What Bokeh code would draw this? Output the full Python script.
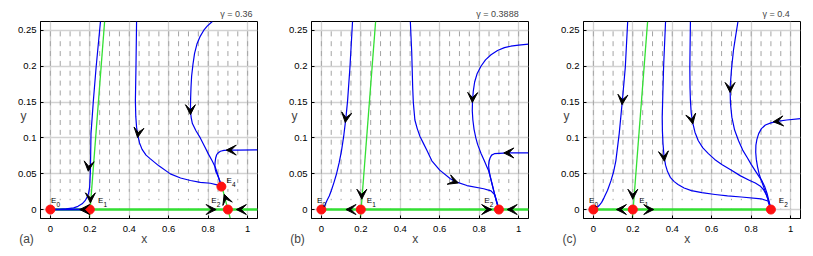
import math
from bokeh.plotting import figure
from bokeh.models import (Range1d, FixedTicker, Label, Arrow, VeeHead,
                          ColumnDataSource, PrintfTickFormatter)
from bokeh.layouts import row
from bokeh.embed import file_html
from bokeh.resources import INLINE
from bokeh.core.properties import value

# ---------------- data ----------------
X_TICKS = [0, 0.2, 0.4, 0.6, 0.8, 1]
Y_TICKS = [0, 0.05, 0.1, 0.15, 0.2, 0.25]
X_RANGE = (-0.05, 1.05)
Y_RANGE = (-0.0125, 0.2625)

GAMMAS = ["\u03b3 = 0.36", "\u03b3 = 0.3888", "\u03b3 = 0.4"]
TAGS = ["(a)", "(b)", "(c)"]

# vector-field sample grid (gray quiver), arrows point down
FIELD_X = [0.0, 0.05, 0.1, 0.15, 0.2, 0.25, 0.3, 0.35, 0.4, 0.45, 0.5,
           0.55, 0.6, 0.65, 0.7, 0.75, 0.8, 0.85, 0.9, 0.95, 1.0]
FIELD_Y = [0.00125, 0.015, 0.02875, 0.0425, 0.05625, 0.07, 0.08375, 0.0975,
           0.11125, 0.125, 0.13875, 0.1525, 0.16625, 0.18, 0.19375, 0.2075,
           0.22125, 0.235, 0.24875]
FIELD_LEN = [0.0006, 0.002, 0.004, 0.0055, 0.0065, 0.007, 0.007, 0.007, 0.007,
             0.007, 0.007, 0.007, 0.007, 0.007, 0.007, 0.007, 0.007,
             0.007, 0.007]

# green nullclines
SLANT_X = [0.198, 0.275]
SLANT_Y = [-0.0125, 0.2625]
AXIS_A_X = [0.0, 1.05]
AXIS_B_X = [0.0, 1.05]
AXIS_C_X = [0.0, 0.9]
GREEN_A2_X = [0.865, 0.912]
GREEN_A2_Y = [0.037, -0.0125]

# trajectories (blue)
A0_X = [0.0, 0.2]
A0_Y = [0.0, 0.0]
A1_X = [0.254, 0.232, 0.218, 0.206, 0.203, 0.199, 0.193, 0.186, 0.175, 0.161,
        0.14, 0.118, 0.08, 0.05, 0.0]
A1_Y = [0.2625, 0.199, 0.152, 0.106, 0.054, 0.031, 0.022, 0.017, 0.012, 0.008,
        0.0045, 0.0024, 0.001, 0.0004, 0.0]
A2_X = [0.437, 0.434, 0.431, 0.433, 0.437, 0.443, 0.452, 0.465, 0.485, 0.507,
        0.55, 0.608, 0.66, 0.71, 0.76, 0.811, 0.845, 0.867]
A2_Y = [0.2625, 0.2, 0.152, 0.13, 0.115, 0.104, 0.093, 0.084, 0.076, 0.0707,
        0.061, 0.0498, 0.044, 0.0405, 0.038, 0.0367, 0.0345, 0.032]
A3_X = [0.821, 0.795, 0.777, 0.758, 0.743, 0.731, 0.723, 0.716, 0.713, 0.711,
        0.71, 0.714, 0.72, 0.738, 0.76, 0.782, 0.802, 0.82, 0.836, 0.846,
        0.853, 0.861, 0.867]
A3_Y = [0.2625, 0.256, 0.25, 0.241, 0.231, 0.218, 0.203, 0.186, 0.171, 0.155,
        0.138, 0.128, 0.12, 0.11, 0.1, 0.088, 0.077, 0.068, 0.059, 0.051,
        0.045, 0.038, 0.032]
A4_X = [1.05, 0.95, 0.912, 0.88, 0.862, 0.85, 0.843, 0.838, 0.835, 0.834,
        0.836, 0.84, 0.846, 0.853, 0.861, 0.867]
A4_Y = [0.0833, 0.083, 0.083, 0.0825, 0.0814, 0.079, 0.0765, 0.072, 0.066,
        0.061, 0.056, 0.052, 0.049, 0.044, 0.038, 0.032]

B1_X = [0.158, 0.145, 0.133, 0.124, 0.114, 0.102, 0.09, 0.077, 0.064, 0.051,
        0.04, 0.029, 0.02, 0.012, 0.005, 0.0]
B1_Y = [0.2625, 0.199, 0.152, 0.127, 0.104, 0.082, 0.065, 0.05, 0.038, 0.027,
        0.019, 0.013, 0.0075, 0.003, 0.001, 0.0]
B2_X = [0.451, 0.458, 0.463, 0.466, 0.474, 0.486, 0.5, 0.518, 0.536, 0.56,
        0.6, 0.654, 0.679, 0.738, 0.823, 0.86, 0.88, 0.893, 0.9]
B2_Y = [0.2625, 0.22, 0.17, 0.15, 0.125, 0.113, 0.102, 0.092, 0.082, 0.068,
        0.055, 0.043, 0.039, 0.0335, 0.029, 0.026, 0.02, 0.008, 0.0]
B3_X = [1.05, 1.0, 0.96, 0.928, 0.893, 0.86, 0.832, 0.809, 0.79, 0.777, 0.77,
        0.766, 0.765, 0.768, 0.774, 0.783, 0.792, 0.81, 0.826, 0.84, 0.848,
        0.857, 0.865, 0.874, 0.882, 0.891, 0.9]
B3_Y = [0.231, 0.2295, 0.228, 0.226, 0.222, 0.216, 0.209, 0.2, 0.19, 0.178,
        0.165, 0.15, 0.138, 0.125, 0.112, 0.1, 0.091, 0.078, 0.068, 0.059,
        0.054, 0.045, 0.036, 0.026, 0.017, 0.008, 0.0]
B4_X = [1.05, 0.945, 0.9, 0.877, 0.863, 0.855, 0.85, 0.848, 0.849, 0.852,
        0.857, 0.865, 0.874, 0.882, 0.891, 0.9]
B4_Y = [0.079, 0.079, 0.0785, 0.078, 0.076, 0.072, 0.067, 0.062, 0.057, 0.052,
        0.045, 0.036, 0.026, 0.017, 0.008, 0.0]

C1_X = [0.174, 0.162, 0.147, 0.131, 0.114, 0.102, 0.089, 0.072, 0.055, 0.042,
        0.029, 0.015, 0.0]
C1_Y = [0.2625, 0.199, 0.152, 0.106, 0.068, 0.052, 0.040, 0.027, 0.017, 0.01,
        0.0056, 0.0018, 0.0]
C2_X = [0.366, 0.356, 0.349, 0.35, 0.353, 0.358, 0.366, 0.376, 0.39, 0.41,
        0.429, 0.46, 0.497, 0.55, 0.617, 0.68, 0.75, 0.85, 0.885, 0.9]
C2_Y = [0.2625, 0.199, 0.129, 0.11, 0.092, 0.075, 0.062, 0.053, 0.045, 0.039,
        0.035, 0.03, 0.0265, 0.0235, 0.021, 0.019, 0.0175, 0.015, 0.012, 0.0]
C3_X = [0.492, 0.489, 0.49, 0.492, 0.496, 0.503, 0.515, 0.532, 0.555, 0.583,
        0.615, 0.651, 0.7, 0.746, 0.79, 0.821, 0.845, 0.862, 0.878, 0.89, 0.9]
C3_Y = [0.2625, 0.199, 0.17, 0.152, 0.135, 0.122, 0.108, 0.096, 0.086, 0.078,
        0.07, 0.063, 0.055, 0.047, 0.041, 0.037, 0.033, 0.028, 0.02, 0.01, 0.0]
C4_X = [0.733, 0.72, 0.71, 0.7, 0.693, 0.695, 0.702, 0.716, 0.736, 0.757,
        0.779, 0.8, 0.821, 0.84, 0.855, 0.87, 0.881, 0.892, 0.9]
C4_Y = [0.2625, 0.24, 0.222, 0.195, 0.169, 0.148, 0.129, 0.111, 0.096, 0.083,
        0.073, 0.063, 0.054, 0.046, 0.04, 0.031, 0.022, 0.01, 0.0]
C5_X = [1.05, 0.98, 0.932, 0.9, 0.872, 0.852, 0.838, 0.829, 0.824, 0.823,
        0.826, 0.832, 0.84, 0.852, 0.864, 0.878, 0.89, 0.9]
C5_Y = [0.127, 0.125, 0.123, 0.121, 0.118, 0.113, 0.106, 0.098, 0.09, 0.08,
        0.07, 0.06, 0.05, 0.04, 0.031, 0.02, 0.0105, 0.0]

# equilibria
EQ_A_X = [0.0, 0.2, 0.9, 0.867]
EQ_A_Y = [0.0, 0.0, 0.0, 0.032]
EQ_A_SUB = ["0", "1", "2", "4"]
EQ_B_X = [0.0, 0.2, 0.9]
EQ_B_Y = [0.0, 0.0, 0.0]
EQ_B_SUB = ["0", "1", "2"]
EQ_C_X = [0.0, 0.2, 0.9]
EQ_C_Y = [0.0, 0.0, 0.0]
EQ_C_SUB = ["0", "1", "2"]

# direction arrows on trajectories: x, y, screen angle (deg)
ARR_A_X = [0.194, 0.203, 0.169, 0.445, 0.71, 0.912, 0.82, 0.963, 0.888]
ARR_A_Y = [0.059, 0.015, 0.0, 0.106, 0.138, 0.083, 0.0, 0.0, 0.016]
ARR_A_ANG = [265, 270, 180, 262, 270, 180, 0, 180, 110]
ARR_B_X = [0.124, 0.205, 0.145, 0.843, 0.962, 0.675, 0.945, 0.766]
ARR_B_Y = [0.127, 0.02, 0.0, 0.0, 0.0, 0.039, 0.079, 0.155]
ARR_B_ANG = [262, 270, 180, 0, 180, 340, 180, 268]
ARR_C_X = [0.147, 0.358, 0.5, 0.693, 0.932, 0.2, 0.137, 0.286]
ARR_C_Y = [0.152, 0.073, 0.125, 0.169, 0.123, 0.02, 0.0, 0.0]
ARR_C_ANG = [265, 275, 282, 270, 185, 270, 180, 0]

# ---------------- layout ----------------
FRAME_W = 217
FRAME_H = 197
TOP = 21
BOTTOM = 37
PX_X = FRAME_W / (X_RANGE[1] - X_RANGE[0])
PX_Y = FRAME_H / (Y_RANGE[1] - Y_RANGE[0])

FONT = "Liberation Sans"
BLUE = "#0000f0"
GREEN = "#33e033"


def make_panel(i, curves, axis_x, extra_green, eq_x, eq_y, eq_sub, eq_lab,
               arr_x, arr_y, arr_ang, gamma_x, left, right):
    p = figure(width=left + FRAME_W + right, height=TOP + FRAME_H + BOTTOM,
               x_range=Range1d(*X_RANGE), y_range=Range1d(*Y_RANGE),
               output_backend="svg", toolbar_location=None,
               min_border_left=left, min_border_right=right,
               min_border_top=TOP, min_border_bottom=BOTTOM)
    p.outline_line_color = "black"
    p.outline_line_width = 1
    p.background_fill_color = "white"
    p.border_fill_color = "white"
    for ax in (p.xaxis[0], p.yaxis[0]):
        ax.major_tick_in = 3
        ax.major_tick_out = 0
        ax.minor_tick_line_color = None
        ax.axis_line_color = "black"
        ax.major_tick_line_color = "black"
        ax.major_label_text_font = FONT
        ax.major_label_text_font_size = "9.5px"
        ax.major_label_text_color = "black"
        ax.formatter = PrintfTickFormatter(format="%g")
    p.xaxis.ticker = FixedTicker(ticks=X_TICKS)
    p.yaxis.ticker = FixedTicker(ticks=Y_TICKS)
    p.xaxis.major_label_standoff = 7
    p.yaxis.major_label_standoff = 4
    p.xgrid.ticker = FixedTicker(ticks=X_TICKS)
    p.ygrid.ticker = FixedTicker(ticks=Y_TICKS)
    for g in (p.xgrid[0], p.ygrid[0]):
        g.grid_line_color = "#d2d2d2"
        g.grid_line_width = 1.3

    # vector field
    x0, y0, x1, y1 = [], [], [], []
    for yy, ll in zip(FIELD_Y, FIELD_LEN):
        for xx in FIELD_X:
            x0.append(xx); y0.append(yy); x1.append(xx); y1.append(yy - ll)
    p.segment(x0=x0, y0=y0, x1=x1, y1=y1, line_color="#a4a4a4", line_width=1)

    # nullclines
    p.line(axis_x, [0, 0], line_color=GREEN, line_width=2.6)
    p.line(SLANT_X, SLANT_Y, line_color=GREEN, line_width=1.3)
    for gx, gy in extra_green:
        p.line(gx, gy, line_color=GREEN, line_width=1.3)

    # trajectories
    for cx, cy, w in curves:
        p.line(cx, cy, line_color=BLUE, line_width=w, line_join="round")

    # equilibria
    p.scatter(eq_x, eq_y, marker="circle", size=9, fill_color="#ff1010",
              line_color="#ff1010")

    # arrow heads
    xs, ys, xe, ye = [], [], [], []
    for ax_, ay_, ang in zip(arr_x, arr_y, arr_ang):
        dx = math.cos(math.radians(ang)) * 4 / PX_X
        dy = math.sin(math.radians(ang)) * 4 / PX_Y
        xs.append(ax_ - dx); ys.append(ay_ - dy)
        xe.append(ax_ + dx); ye.append(ay_ + dy)
    src = ColumnDataSource(dict(xs=xs, ys=ys, xe=xe, ye=ye))
    p.add_layout(Arrow(x_start="xs", y_start="ys", x_end="xe", y_end="ye",
                       source=src, line_alpha=0,
                       end=VeeHead(size=10, fill_color="black",
                                   line_color="black", line_width=1)))

    # equilibrium labels
    lx = [q[0] for q in eq_lab]
    ly = [q[1] for q in eq_lab]
    p.text(lx, ly, text=["E"] * len(lx), text_font=value(FONT),
           text_font_size="8px", text_baseline="middle", text_align="left",
           text_color="black")
    p.text([v + 5.5 / PX_X for v in lx], [v - 4.0 / PX_Y for v in ly],
           text=eq_sub, text_font=value(FONT), text_font_size="6.5px",
           text_baseline="middle", text_align="left", text_color="black")

    # labels outside the frame (placed in side panels so they are not clipped)
    ylab = Y_RANGE[0] - 20.5 / PX_Y
    p.add_layout(Label(x=0.476, y=ylab, text="x", text_font=FONT,
                       text_font_size="12px", text_align="center",
                       text_baseline="middle"), "right")
    p.add_layout(Label(x=X_RANGE[0] - 17 / PX_X, y=0.131, text="y",
                       text_font=FONT, text_font_size="12px",
                       text_align="center", text_baseline="middle"), "left")
    p.add_layout(Label(x=X_RANGE[0] - 14 / PX_X, y=ylab, text=TAGS[i],
                       text_font=FONT, text_font_size="12px",
                       text_align="center", text_baseline="middle"), "below")
    p.add_layout(Label(x=gamma_x, y=Y_RANGE[1] + 2.5 / PX_Y, text=GAMMAS[i],
                       text_font=FONT, text_font_size="9px",
                       text_align="right", text_baseline="bottom"), "above")
    return p


pa = make_panel(
    0,
    [(A0_X, A0_Y, 2.0), (A1_X, A1_Y, 1.2), (A2_X, A2_Y, 1.2),
     (A3_X, A3_Y, 1.2), (A4_X, A4_Y, 1.2)],
    AXIS_A_X, [(GREEN_A2_X, GREEN_A2_Y)],
    EQ_A_X, EQ_A_Y, EQ_A_SUB,
    [(0.003, 0.0126), (0.242, 0.0126), (0.816, 0.0126), (0.893, 0.041)],
    ARR_A_X, ARR_A_Y, ARR_A_ANG, 1.025, 40, 14)

pb = make_panel(
    1,
    [(B1_X, B1_Y, 1.2), (B2_X, B2_Y, 1.2), (B3_X, B3_Y, 1.2), (B4_X, B4_Y, 1.2)],
    AXIS_B_X, [],
    EQ_B_X, EQ_B_Y, EQ_B_SUB,
    [(-0.022, 0.0126), (0.23, 0.0126), (0.826, 0.0126)],
    ARR_B_X, ARR_B_Y, ARR_B_ANG, 1.0, 40, 15)

pc = make_panel(
    2,
    [(C1_X, C1_Y, 1.2), (C2_X, C2_Y, 1.2), (C3_X, C3_Y, 1.2),
     (C4_X, C4_Y, 1.2), (C5_X, C5_Y, 1.2)],
    AXIS_C_X, [],
    EQ_C_X, EQ_C_Y, EQ_C_SUB,
    [(-0.022, 0.0126), (0.233, 0.0126), (0.94, 0.0126)],
    ARR_C_X, ARR_C_Y, ARR_C_ANG, 0.995, 40, 9)

layout = row(pa, pb, pc)
open("out.html", "w").write(file_html(layout, INLINE))
